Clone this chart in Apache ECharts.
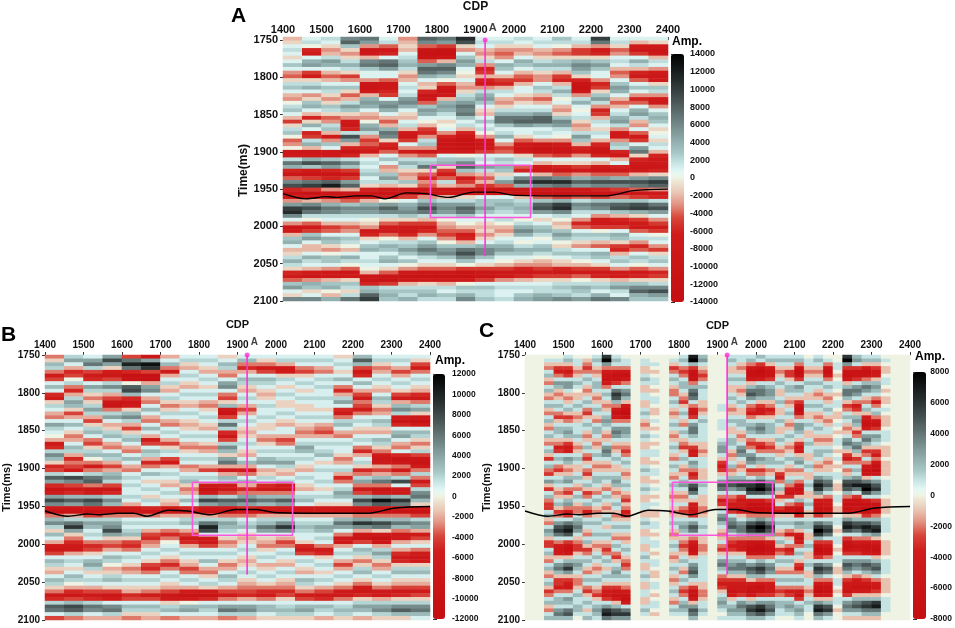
<!DOCTYPE html>
<html>
<head>
<meta charset="utf-8">
<title>Seismic sections A, B, C</title>
<script src="https://cdn.jsdelivr.net/npm/echarts@6.0.0/dist/echarts.min.js"></script>
<style>
html, body { margin: 0; padding: 0; background: #fff; }
#chart { width: 955px; height: 628px; }
</style>
</head>
<body>
<div id="chart"></div>
<script>
'use strict';

// trace start CDP (each cell covers one trace bin)
var binStartCoarse = [1400, 1450, 1500, 1550, 1600, 1650, 1700, 1750, 1800, 1850, 1900, 1950, 2000, 2050, 2100, 2150, 2200, 2250, 2300, 2350];
var binStartFine = [1400, 1425, 1450, 1475, 1500, 1525, 1550, 1575, 1600, 1625, 1650, 1675, 1700, 1725, 1750, 1775, 1800, 1825, 1850, 1875,
    1900, 1925, 1950, 1975, 2000, 2025, 2050, 2075, 2100, 2125, 2150, 2175, 2200, 2225, 2250, 2275, 2300, 2325, 2350, 2375];
// sample start times (ms), 5 ms per cell
var sampleTimes = [1750, 1755, 1760, 1765, 1770, 1775, 1780, 1785, 1790, 1795, 1800, 1805, 1810, 1815, 1820, 1825, 1830, 1835, 1840, 1845,
    1850, 1855, 1860, 1865, 1870, 1875, 1880, 1885, 1890, 1895, 1900, 1905, 1910, 1915, 1920, 1925, 1930, 1935, 1940, 1945,
    1950, 1955, 1960, 1965, 1970, 1975, 1980, 1985, 1990, 1995, 2000, 2005, 2010, 2015, 2020, 2025, 2030, 2035, 2040, 2045,
    2050, 2055, 2060, 2065, 2070, 2075, 2080, 2085, 2090, 2095];

// amplitudes in units of 1000, one array per trace bin, top to bottom
var ampA = [
    [-2,-1,1,2,1,-1,1,3,1,-3, -4,-1,2,3,1,-2,-3,0,2,3, 1,-2,-5,-1,2,3,0,-4,-3,0, -9,-8,2,7,4,-6,-9,-4,6,9, -6,-10,-9,-3,5,10,11,6,1,-3, -9,-8,-2,3,4,1,-2,-1,2,4, 2,-1,-6,-8,-4,3,5,1,-1,6],
    [1,2,0,-6,-7,1,4,5,1,-5, -7,-1,2,4,1,-3,-1,3,4,1, -2,-6,-1,4,1,-6,-5,2,4,-2, -9,-7,4,9,3,-7,-10,-5,7,10, -5,-11,-9,-2,6,9,7,2,0,-4, -8,-5,3,5,1,-2,-2,1,4,2, 1,-2,-7,-9,-3,4,3,-1,1,6],
    [2,1,-1,-3,-2,2,5,4,1,-2, -4,-2,1,3,2,-1,-3,-1,3,2, -1,-4,-3,2,3,-2,-7,-3,3,1, -8,-8,3,8,5,-6,-10,-6,8,12, -3,-10,-10,-3,4,7,6,2,1,-2, -5,-4,1,4,3,-1,-3,0,3,3, 1,-3,-8,-8,-2,3,4,0,-2,4],
    [6,8,3,-1,-3,-1,2,4,2,-1, -5,-3,1,3,-1,-4,-2,2,5,3, -1,-3,-8,-9,-6,2,9,5,-2,-6, -10,-6,2,6,3,-5,-9,-5,5,8, -2,-9,-10,-4,3,6,5,2,1,-2, -4,-3,1,3,2,0,-2,1,4,2, 0,-4,-9,-7,-1,3,2,-1,2,7],
    [7,5,-3,-9,-8,-2,6,7,3,1, 1,-3,-9,-10,-8,-2,4,5,4,1, -2,-3,0,4,5,2,-3,-5,-4,-6, -7,-2,1,2,1,2,3,1,2,-1, -6,-9,-8,-2,4,6,5,2,0,-1, -3,-7,-6,-1,1,3,4,1,1,2, 1,0,-2,-9,-10,-6,3,4,8,10],
    [1,2,-4,-8,-6,1,7,8,5,1, 1,-4,-9,-9,-6,-5,1,5,6,4, 1,-2,-4,-2,4,7,6,-1,-6,-7, -4,1,3,1,-3,-2,3,5,2,-2, -7,-10,-7,0,5,8,6,2,-1,-4, -7,-8,-4,0,2,4,3,1,3,4, 1,-1,-4,-10,-11,-5,2,3,4,3],
    [-3,-2,-1,-2,1,2,3,4,2,-1, -3,-2,1,2,1,2,5,6,4,1, -1,-2,1,2,-2,-7,-9,-5,1,-3, -7,-3,2,4,2,-1,-3,-2,3,-1, -8,-10,-5,1,4,5,6,3,-1,-5, -8,-9,-6,-2,2,3,5,3,1,3, 0,-3,-8,-11,-9,-2,2,3,2,4],
    [8,6,-4,-10,-11,-10,-4,5,8,7, 4,1,-2,-1,-6,-10,-9,-4,3,5, 4,1,0,-2,-5,-6,-3,2,3,-3, -9,-4,2,3,7,-1,-4,-6,-3,-4, -9,-10,-3,3,6,9,7,2,-2,-5, -7,-6,-3,1,3,5,7,5,2,1, -1,-4,-9,-11,-8,-1,2,3,4,2],
    [7,5,-5,-11,-12,-9,-2,6,8,6, 3,0,-4,-9,-10,-8,-2,4,5,4, 2,1,-1,0,1,-3,-6,-9,-10,-9, -7,1,3,4,-1,-5,-7,-4,2,-2, -9,-9,-2,2,5,6,5,2,0,-2, -3,-4,-5,-3,0,3,5,6,3,1, -1,-4,-9,-11,-8,-2,2,1,3,2],
    [11,9,-1,-3,1,3,5,4,1,0, -1,1,-2,-3,-1,2,3,5,7,6, 7,3,1,2,-2,-6,-9,-11,-11,-10, -8,0,3,6,8,3,-3,-7,-5,-3, -10,-9,-1,2,5,8,7,3,1,0, -2,-4,-7,-6,-2,3,7,9,6,3, 0,-5,-10,-11,-7,0,3,2,4,6],
    [1,2,1,-2,-3,-1,2,-3,-6,-5, -2,-6,-7,-3,2,4,5,3,1,-1, -2,1,3,1,2,0,-3,-7,-9,-8, -5,1,2,1,5,2,-2,-4,-2,-5, -9,-7,1,3,3,5,3,1,1,-1, -2,-1,-3,-1,1,4,6,6,3,1, -1,-5,-9,-10,-5,1,3,2,2,3],
    [1,2,-1,-3,-4,-3,1,4,3,1, -2,-5,-6,-2,2,1,-2,-3,-1,2, 4,7,7,3,1,2,4,1,-3,-5, -4,1,3,2,4,3,-1,2,5,-4, -10,-8,1,3,4,3,2,1,2,0, -2,-3,-1,1,2,4,5,3,1,0, -2,-5,-8,-8,-3,1,2,1,1,2],
    [2,1,-1,-3,-2,1,4,3,1,-2, -4,-5,-2,1,1,-1,-3,-1,1,2, 4,7,8,5,1,1,-1,-4,-8,-9, -8,-1,2,1,-4,-6,1,6,9,4, -9,-10,-2,2,3,4,3,1,0,2, 4,6,4,1,0,2,4,3,1,-1, -3,-6,-8,-6,-2,1,2,1,3,4],
    [1,2,1,-2,-3,-1,2,4,2,-1, -3,-3,1,3,2,-2,-4,-2,1,2, 5,8,8,4,1,2,1,-3,-9,-11, -10,-4,1,-2,-7,-9,-2,7,11,6, -8,-11,-4,3,8,9,5,1,-1,1, 3,4,2,0,1,3,4,2,0,-2, -3,-5,-7,-5,-1,1,2,2,4,5],
    [3,2,0,-3,-4,-1,3,4,2,-2, -5,-6,-2,2,4,2,0,1,-2,-3, -1,3,6,5,2,1,0,-3,-8,-10, -10,-5,1,-1,-6,-10,-4,6,11,7, -7,-11,-5,4,10,11,6,2,0,-2, -1,3,5,3,0,-1,2,3,1,-1, -2,-6,-8,-5,-1,2,3,2,3,6],
    [1,2,-2,-5,-5,-1,4,6,5,3, -1,-6,-10,-11,-9,-3,2,4,1,0, 1,2,-1,-3,-2,2,5,3,-2,-6, -7,-3,1,-1,-5,-8,-3,4,8,5, -7,-10,-4,2,6,5,2,1,-3,-6, -4,1,3,2,-1,-3,1,3,2,0, -2,-5,-7,-4,0,2,4,3,2,5],
    [10,7,-3,-8,-6,-1,3,5,3,1, 1,-3,-6,-5,-1,3,5,2,-3,-6, -5,-2,2,1,-1,2,1,-2,-6,-9, -10,-6,1,-2,-8,-10,-4,5,9,6, -6,-10,-5,3,7,6,2,-3,-7,-8, -5,0,3,2,-2,-4,1,4,3,1, -1,-5,-8,-6,-1,2,3,1,4,7],
    [1,2,-1,-4,-3,1,2,1,-2,-4, -3,1,3,5,4,1,-2,-4,-2,1, 2,4,5,2,-3,-7,-8,-3,3,2, -6,-8,-2,1,-6,-9,-4,4,9,6, -5,-9,-4,3,8,9,3,-2,-6,-8, -5,1,4,3,-1,-5,-6,-2,2,3, 1,-3,-7,-7,-2,3,5,2,1,6],
    [1,-2,-7,-9,-5,1,4,2,-2,-6, -8,-4,1,3,1,-3,-6,-4,1,4, 5,2,-2,-3,1,-4,-7,-5,1,5, 7,-1,-6,-8,-9,-7,-2,5,9,7, -4,-9,-5,3,9,10,4,-1,-5,-7, -8,-4,1,2,-3,-6,-4,1,3,2, 0,-4,-8,-6,-1,3,6,8,4,3],
    [1,-1,-8,-10,-9,-2,2,1,-3,-7, -9,-7,-1,3,2,-3,-7,-8,-3,1, 3,4,3,1,-1,0,1,-1,2,1, -2,-6,-8,-8,-9,-6,-1,6,10,8, -3,-8,-6,2,7,9,5,1,-3,-5, -7,-5,0,2,1,-3,-5,-1,2,3, 1,-3,-6,-5,-1,2,6,9,5,3]
];

var ampB = [
    [-3,-1,3,2,-3,-6,-4,1,3,1, -5,-6,-1,2,1,-2,-3,1,4,2, 1,0,-2,-7,-5,2,5,3,-1,-5, -4,2,7,4,-5,-9,-6,4,8,5, -7,-10,-3,3,5,2,-1,3,1,-2, -6,-8,-4,1,3,2,-1,-2,1,3, 2,-1,-3,-7,-5,2,7,6,1,-4],
    [2,4,1,-2,-5,-4,0,2,-3,-5, -2,2,4,3,-1,-4,-2,1,3,1, -1,-3,-2,1,3,2,-2,-5,-3,-4, -6,1,8,5,-4,-8,-5,3,7,4, -8,-9,-2,2,6,9,4,-1,-3,-5, -7,-7,-2,1,2,1,-1,1,3,2, 0,-2,-5,-8,-4,3,8,7,2,-3],
    [1,4,6,2,-4,-7,-5,1,4,2, -1,-3,-1,2,4,2,-2,-4,-1,2, 3,1,-3,-4,-1,2,3,0,-3,-6, -3,2,6,7,-3,-9,-7,3,8,6, -6,-10,-4,2,4,3,1,2,1,-3, -5,-4,-1,1,3,4,2,-1,1,2, 1,-2,-4,-7,-5,2,6,5,1,-2],
    [4,8,4,-1,-6,-8,-4,2,5,2, -2,-4,-8,-9,-3,2,4,1,-2,-1, 2,3,1,-2,-3,1,3,2,-2,-4, -2,3,4,2,-4,-8,-5,2,5,3, -6,-9,-3,2,4,5,8,4,-1,-3, -4,-2,1,3,2,0,-2,-1,2,3, 1,-1,-4,-8,-6,1,5,6,2,-2],
    [-4,6,10,6,-5,-10,-9,0,7,8, 3,-5,-8,-6,-1,3,5,2,-2,-4, -1,2,3,1,-2,-3,1,3,1,-2, -3,1,2,1,2,1,1,2,1,-2, -6,-8,-3,1,2,1,2,3,-1,-4, -5,-3,1,2,1,-1,-3,-2,1,2, 1,-1,-2,-5,-4,1,3,2,-1,-3],
    [-8,4,11,9,-4,-11,-10,-2,4,5, 1,-2,-3,1,3,1,-2,-3,1,3, 1,-2,-6,-4,1,3,2,-2,-5,-3, 1,3,1,-1,1,2,1,-1,2,1, -5,-8,-3,1,2,1,-2,-4,-5,-3, -2,1,2,1,-1,-4,-5,-3,1,2, 1,-1,-3,-6,-4,1,3,2,-1,-2],
    [-2,1,3,-3,-6,-2,1,2,-1,-2, 1,2,-1,-3,-1,2,1,-2,-3,1, 2,1,-2,-4,-1,2,1,-4,-6,-2, 1,2,1,-1,-2,1,2,1,-1,-2, -6,-7,-2,1,2,1,-3,-5,-3,0, 1,2,1,-1,-3,-5,-3,1,2,1, -1,-2,-4,-8,-7,-1,2,3,1,-3],
    [1,2,-1,-2,1,2,1,-1,-2,1, 2,1,-1,-2,1,2,1,-1,-2,-1, 1,2,1,-2,-3,-1,1,2,1,-3, -2,1,2,3,-1,-3,-2,1,3,1, -5,-7,-2,2,3,1,-2,-4,-6,-5, -2,1,2,1,-1,-2,-4,-3,1,2, 1,-2,-6,-9,-6,0,3,4,1,-2],
    [1,2,1,-1,-2,1,2,1,-1,1, 2,1,-2,-3,-1,1,2,1,-1,-2, 1,2,1,-1,-3,-2,1,2,1,-2, -4,1,2,1,-7,-10,-6,3,8,4, -8,-10,-2,2,6,10,8,1,-6,-8, -4,1,2,1,3,1,-2,-3,-1,1, 2,-1,-6,-9,-5,1,3,2,1,-2],
    [-1,1,3,2,-2,-3,1,4,5,1, -3,-4,-1,3,-7,-9,-4,2,6,2, -5,-8,-4,2,5,3,-1,4,6,-2, -7,-2,3,2,-6,-8,-4,2,7,5, -7,-10,-3,2,4,3,2,1,-1,-3, -2,1,2,1,-1,-3,-2,1,3,2, 1,-2,-4,-6,-3,1,4,6,2,-3],
    [1,3,-3,-5,-2,1,3,2,-1,-2, 1,2,1,-2,-4,-2,1,2,1,-1, -2,-1,1,2,1,-1,-2,1,3,-2, -6,-3,1,3,-2,-5,-3,4,7,4, -5,-8,-3,1,2,3,1,-1,-2,-1, 1,2,1,-1,-2,-1,1,2,1,-1, -2,-3,-4,-5,-2,1,4,5,2,-2],
    [1,-1,-3,-6,-4,1,3,2,1,-1, -2,-1,1,2,1,1,2,1,-1,-1, 1,-2,-3,-1,1,2,1,3,4,1, -2,-1,2,1,-5,-7,-3,3,6,3, -6,-8,-2,2,3,6,4,1,-1,-2, -3,-1,1,2,1,-2,-1,1,2,1, -1,-3,-5,-6,-3,1,3,3,1,-1],
    [1,2,-2,-7,-6,-1,2,1,-1,1, 2,1,-1,-1,1,2,1,-1,-2,1, 1,-2,-4,-3,1,2,1,2,4,2, -1,-2,1,2,-6,-8,-3,3,7,4, -7,-9,-2,2,5,9,5,1,-2,-4, -3,1,2,1,-1,-2,1,2,1,-1, -2,-3,-5,-4,-1,1,2,3,2,-1],
    [1,2,1,-3,-4,-1,1,2,1,-1, 1,2,1,-1,-1,1,2,1,-1,-2, -3,-2,1,2,4,3,1,2,1,-1, -2,1,2,1,-1,-2,1,2,3,1, -6,-7,-2,1,2,3,2,1,1,-1, -5,-7,-4,1,2,1,-1,-2,1,3, 2,-1,-3,-6,-4,1,3,4,2,-1],
    [1,2,1,-2,-3,1,2,1,2,1, 1,2,1,1,-1,1,2,1,-2,-3, -4,-2,1,2,1,2,3,1,-1,1, 2,1,1,2,1,-1,1,2,1,-1, -6,-7,-2,1,2,4,3,1,2,1, -3,-6,-5,-1,1,2,1,-1,1,2, 1,-2,-4,-7,-5,1,3,2,1,-2],
    [-1,1,2,1,-1,1,3,1,-3,-5, -2,2,4,1,-5,-7,-3,2,3,1, -2,-3,1,2,1,1,-1,-3,-2,1, 2,-2,-5,-3,1,2,4,3,1,-1, -7,-8,-2,3,6,4,1,-3,-7,-6, -2,1,2,1,-2,-4,-2,1,2,1, -1,-3,-6,-7,-3,1,2,3,2,-1],
    [3,7,3,-4,-8,-5,1,3,1,-2, -4,-6,-3,-4,-6,-3,1,2,1,-1, -2,1,2,1,-3,-5,-2,1,2,-1, -5,-3,2,4,-3,-7,-4,3,8,5, -8,-10,-3,4,9,5,-2,-8,-9,-4, 1,3,2,-1,-3,-1,2,3,1,-1, -3,-6,-8,-5,-1,2,4,3,1,-2],
    [1,2,-1,-3,-2,1,2,1,-1,-2, 1,3,2,-1,-3,-2,1,3,2,-1, -2,1,3,2,-1,-3,-6,-8,-7,-2, -4,-2,3,6,-3,-9,-6,4,11,7, -7,-10,-3,3,8,6,-1,-7,-10,-8, -2,2,4,2,-1,-3,-2,1,2,1, -1,-3,-7,-6,-2,2,4,5,2,-1],
    [1,2,1,-2,-4,-2,1,2,1,-1, -4,-6,-2,3,5,2,-6,-9,-5,1, 3,4,1,-2,-3,1,-5,-9,-8,-3, -6,-3,2,8,1,-7,-6,3,9,6, -6,-9,-3,3,6,3,-3,-7,-6,-2, 1,-2,-5,-7,-5,-1,2,3,1,-1, -2,-4,-7,-5,-1,2,5,7,3,-1],
    [1,-1,-4,-6,-3,1,2,1,-1,-2, -5,-7,-3,2,4,-1,-8,-10,-6,1, 3,2,-1,-3,-1,2,-4,-8,-9,-6, -3,2,-3,-7,-4,2,5,6,3,-1, -6,-9,-4,2,5,4,-2,-6,-4,-1, 1,-3,-6,-8,-6,-1,2,3,1,-1, -2,-4,-6,-4,-1,2,5,6,3,1]
];

var ampC = [
    [0,0,0,0,0,0,0,0,0,0, 0,0,0,0,0,0,0,0,0,0, 0,0,0,0,0,0,0,0,0,0, 0,0,0,0,0,0,0,0,0,0, 0,0,0,0,0,0,0,0,0,0, 0,0,0,0,0,0,0,0,0,0, 0,0,0,0,0,0,0,0,0,0],
    [0,0,0,0,0,0,0,0,0,0, 0,0,0,0,0,0,0,0,0,0, 0,0,0,0,0,0,0,0,0,0, 0,0,0,0,0,0,0,0,0,0, 0,0,0,0,0,0,0,0,0,0, 0,0,0,0,0,0,0,0,0,0, 0,0,0,0,0,0,0,0,0,0],
    [0,1,-1,-2,1,2,-1,-2,1,2, -1,-2,1,2,-1,-2,1,2,-1,-2, 1,2,-1,-2,1,2,-1,-3,1,2, -2,-3,1,3,-1,-3,1,2,-2,-3, -3,1,2,-1,-2,1,3,2,-1,-3, -3,1,2,-1,-2,1,2,-1,-2,1, 2,-1,-3,-2,1,2,-1,-2,1,2],
    [0,1,-1,-3,-4,-2,1,3,2,-1, -2,-1,1,2,1,-2,-3,-1,1,2, 2,1,-1,-2,-4,-3,1,2,1,-2, -3,-1,1,2,1,-1,-2,-1,1,2, -1,-3,-2,1,3,5,6,4,1,-2, -4,-5,-4,-1,1,3,4,2,-1,-3, -3,-4,-2,1,2,2,1,3,4,2],
    [1,2,-1,-3,-5,-3,1,3,3,1, -1,-2,-1,1,2,-1,-3,-2,1,2, 3,2,-1,-3,-5,-4,1,3,2,-1, -2,-1,2,3,1,-2,-3,-1,2,3, -2,-4,-3,1,4,6,7,5,1,-3, -6,-7,-5,-1,2,4,6,3,-1,-3, -4,-5,-2,1,3,2,1,4,5,2],
    [0,1,1,-1,-2,-1,1,2,1,0, -1,-1,1,2,1,-1,-2,-1,1,1, 1,2,1,-1,-2,-1,1,2,1,-1, -1,1,2,1,-1,-2,1,2,1,-1, -2,-2,1,2,3,4,3,1,-1,-2, -3,-3,-1,1,2,3,2,1,-1,-2, -2,-1,1,2,1,1,2,2,1,0],
    [0,-1,-2,-3,-2,1,2,1,-1,-2, -1,1,2,1,-2,-3,-1,1,2,1, -1,-2,-1,1,2,1,-2,-3,-1,1, -2,-3,-1,1,2,-1,-3,-2,1,2, -2,-4,-2,1,2,1,-1,-2,1,2, -1,-3,-2,1,2,1,-1,-2,1,2, 1,-2,-3,-1,1,2,1,-1,1,2],
    [1,2,1,-1,-2,-1,1,2,2,1, -1,-2,-1,1,2,1,-1,-2,1,2, 2,1,-1,-2,-1,1,2,1,-1,-2, -1,1,2,2,1,-1,-2,1,2,1, -1,-2,-1,1,2,1,1,2,1,-1, -2,-1,1,2,1,-1,-2,-1,1,2, 1,-1,-2,-3,-1,1,2,3,2,1],
    [6,8,3,-2,-4,-6,-7,-5,-2,1, 2,1,-1,-2,-1,1,2,3,2,1, -1,-2,-1,1,3,4,3,1,-1,-2, -1,1,2,1,-1,-2,1,2,1,-1, -2,-1,1,2,1,-1,1,2,1,-1, -2,-3,-2,1,2,1,-1,1,2,1, -1,-3,-4,-5,-3,1,3,6,7,4],
    [1,2,1,-2,-5,-7,-6,-3,1,4, 6,5,2,-2,-5,-7,-5,-2,1,3, 4,3,1,-1,-2,-1,1,2,1,-1, -1,1,2,3,2,-1,-2,-1,1,2, 1,-1,-2,-1,1,2,1,-1,-2,1, 2,1,-2,-3,-1,1,2,3,2,1, -1,-3,-5,-6,-4,-1,2,5,6,3],
    [0,1,1,-2,-5,-7,-5,-2,1,3, 4,2,-1,-4,-7,-8,-6,-2,1,3, 3,2,1,-1,-2,-3,-2,1,2,1, -1,-2,-1,1,2,1,-1,-2,-3,-1, -2,-4,-3,-1,1,2,1,-1,-2,-1, 1,2,1,-1,-2,-3,-2,1,2,1, -1,-2,-4,-6,-7,-4,1,4,6,3],
    [0,0,0,0,0,0,0,0,0,0, 0,0,0,0,0,0,0,0,0,0, 0,0,0,0,0,0,0,0,0,0, 0,0,0,0,0,0,0,0,0,0, 0,0,0,0,0,0,0,0,0,0, 0,0,0,0,0,0,0,0,0,0, 0,0,0,0,0,0,0,0,0,0],
    [0,1,1,-1,-1,1,2,1,-1,-1, 1,1,-1,-1,1,2,1,-1,-2,-1, 1,2,1,-1,-1,1,1,-1,-1,1, 2,1,-1,-1,1,2,1,-1,-1,1, 1,-1,-1,1,2,1,-1,-1,1,1, -1,-1,1,2,1,-1,-1,1,2,1, -1,-1,1,1,-1,-1,1,2,1,0],
    [0,0,1,0,-1,0,1,1,0,-1, 0,1,1,0,-1,-1,0,1,0,-1, 0,1,0,-1,0,1,1,0,-1,0, 1,1,0,-1,0,1,0,-1,0,1, 0,-1,-1,0,1,1,0,-1,0,1, 1,0,-1,0,1,1,0,-1,-1,0, 1,1,0,-1,0,1,1,0,-1,0],
    [0,0,0,0,0,0,0,0,0,0, 0,0,0,0,0,0,0,0,0,0, 0,0,0,0,0,0,0,0,0,0, 0,0,0,0,0,0,0,0,0,0, 0,0,0,0,0,0,0,0,0,0, 0,0,0,0,0,0,0,0,0,0, 0,0,0,0,0,0,0,0,0,0],
    [0,1,-1,-3,-2,1,2,1,-1,-2, -2,1,2,1,-1,-2,-1,1,2,1, -1,-2,-1,1,2,1,-1,-2,1,2, 1,-1,-2,1,2,1,-1,-2,-1,1, -1,-2,-1,1,2,1,-1,-2,-1,1, 2,1,-1,-2,-1,1,2,1,-1,-2, -1,1,2,1,-1,-2,1,2,1,0],
    [1,2,1,-2,-3,-2,1,2,2,1, -1,-2,-3,-1,1,2,1,-1,-2,1, 2,1,-1,-2,-3,-1,1,2,1,-1, -2,-1,1,2,3,1,-1,-2,-1,1, -2,-3,-1,1,2,3,2,1,-1,-2, -3,-2,-1,1,2,1,-1,-2,1,2, 1,-2,-3,-2,1,2,3,2,1,0],
    [7,8,2,-3,-6,-7,-6,-2,2,4, 5,4,1,-2,-5,-6,-3,1,3,4, 4,2,1,-1,-3,-5,-4,1,3,2, -2,-4,-3,1,5,6,4,1,-1,-4, -5,-6,-3,1,3,5,4,1,-2,-4, -6,-7,-5,-1,1,3,4,5,3,1, -1,-3,-6,-7,-5,-1,3,5,4,2],
    [2,3,1,-1,-2,-3,-2,1,2,1, 1,1,-1,-1,-2,-1,1,2,1,1, 1,1,1,-1,-1,-2,-1,1,1,1, -1,-1,-1,1,2,1,1,-1,-1,-1, -2,-2,-1,1,1,2,1,1,-1,-1, -2,-2,-1,1,1,1,1,1,1,1, -1,-1,-2,-2,-1,1,1,2,1,0],
    [0,0,0,0,0,0,0,0,0,0, 0,0,0,0,0,0,0,0,0,0, 0,0,0,0,0,0,0,0,0,0, 0,0,0,0,0,0,0,0,0,0, 0,0,0,0,0,0,0,0,0,0, 0,0,0,0,0,0,0,0,0,0, 0,0,0,0,0,0,0,0,0,0],
    [0,0,0,0,0,0,0,0,0,0, 0,0,0,1,1,0,0,1,1,1, 0,0,1,2,3,3,1,-1,-3,-4, -3,-1,1,3,5,4,1,-2,-4,-3, -1,1,3,4,2,1,-1,-2,-1,1, -2,-3,-1,1,3,4,2,1,-2,-3, -4,-3,-1,1,2,3,2,1,0,1],
    [1,2,1,-1,-1,1,2,1,-1,-1, 1,2,1,-1,-2,-1,1,2,1,-1, -1,1,2,2,1,-1,-2,-1,1,2, -2,-1,2,4,5,3,1,-2,-3,-4, -5,-3,1,3,4,5,3,1,-2,-3, -4,-3,-1,1,2,3,4,2,-1,-3, -4,-5,-6,-4,-1,1,2,3,2,1],
    [1,1,-1,-2,-1,1,2,1,-1,-2, -1,1,2,1,-1,-1,1,2,2,1, -1,-2,-1,1,3,4,3,1,-1,-2, -1,1,2,4,6,4,1,-3,-5,-4, -6,-5,-1,1,3,4,4,2,-2,-4, -5,-4,-1,1,2,4,4,2,-1,-3, -4,-5,-5,-3,1,3,4,3,2,1],
    [1,2,-2,-5,-7,-7,-5,-1,2,4, 5,3,1,-2,-3,-4,-2,1,2,3, 2,1,-2,-3,-2,1,3,4,3,1, -3,-2,1,4,6,7,5,1,-4,-7, -8,-6,-2,2,5,7,6,3,-2,-6, -7,-8,-6,-2,1,3,5,4,2,-1, -4,-6,-7,-5,-1,2,5,6,4,2],
    [2,1,-3,-6,-8,-7,-4,1,3,4, 4,2,-1,-3,-5,-4,-1,1,3,4, 3,1,-1,-3,-4,-2,1,3,2,-1, -3,-2,2,5,7,8,5,1,-4,-7, -8,-7,-2,3,6,8,7,3,-2,-6, -8,-8,-6,-2,2,4,6,5,2,-2, -5,-7,-6,-3,1,3,6,7,5,2],
    [1,2,-1,-4,-6,-6,-3,1,2,3, 3,2,-1,-2,-4,-3,-1,1,2,2, 2,1,-1,-2,-3,-2,1,2,2,1, -2,-1,1,3,5,6,4,1,-3,-6, -7,-6,-2,2,4,6,5,3,-1,-4, -6,-7,-5,-2,1,3,4,3,1,-2, -4,-5,-5,-3,1,3,4,5,3,1],
    [1,2,1,-1,-2,-1,1,2,1,-1, -1,1,2,1,-1,-1,1,2,1,-1, -1,1,2,1,-1,-2,-1,1,2,1, -1,-3,-4,-2,1,2,-1,-3,-1,1, -3,-4,-1,1,2,1,-1,-2,1,2, -1,-3,-2,1,2,1,-1,-2,1,2, 1,-2,-3,-2,1,2,2,1,1,0],
    [1,2,1,-1,-3,-3,-1,1,2,2, 1,-1,-2,-1,1,2,1,-1,-2,-1, 1,2,1,-1,-2,-1,1,2,1,-1, -2,-1,1,2,-2,-5,-6,-3,1,-2, -6,-5,-1,1,2,1,-2,-4,-1,1, -2,-4,-3,1,2,1,-1,-2,1,2, 1,-2,-4,-3,1,2,3,2,1,0],
    [1,2,-2,-6,-8,-7,-3,1,3,2, 1,-1,-3,-6,-8,-6,-2,1,3,3, 2,1,-1,-3,-5,-4,-1,2,3,1, -2,-1,1,-2,-5,-7,-5,-1,2,-3, -7,-8,-4,1,3,2,-1,-4,-6,-4, -2,1,2,1,-1,-3,-4,-2,1,2, 1,-2,-5,-6,-3,1,2,3,2,1],
    [0,1,1,-1,-2,-1,1,2,1,1, -1,-1,1,2,1,-1,-1,1,2,1, -1,-1,1,2,1,1,-1,-1,1,2, 1,-1,-1,1,2,1,-1,-1,1,2, 1,-1,-1,1,2,2,1,-1,-1,1, 2,1,-1,-1,1,2,1,-1,-1,1, 1,-1,-2,-1,1,2,1,1,0,0],
    [1,2,1,-1,-2,-1,1,2,1,-1, -2,-1,1,2,1,-1,-2,-1,1,2, 1,-1,-2,-1,1,2,2,1,-1,-2, -1,1,3,5,7,6,3,-1,-4,-6, -7,-6,-3,1,4,6,8,6,2,-3, -6,-8,-7,-3,1,4,6,5,2,-2, -5,-7,-8,-5,-1,3,6,7,4,2],
    [0,1,-2,-5,-7,-5,-2,1,2,1, -1,-2,-1,1,2,1,-1,-2,-1,1, 1,-1,-2,-1,1,2,1,-1,-2,-1, -1,1,2,4,5,3,1,-2,-4,-5, -6,-5,-2,1,3,5,6,4,1,-3, -5,-7,-6,-2,1,3,5,4,1,-2, -4,-6,-7,-4,-1,2,5,6,3,1],
    [0,0,1,1,0,-1,0,1,1,0, -1,0,1,1,0,-1,-1,0,1,0, -1,0,1,1,0,-1,0,1,0,-1, 0,1,1,0,-1,-1,0,1,1,0, -1,-1,0,1,1,0,-1,0,1,1, 0,-1,0,1,1,0,-1,-1,0,1, 1,0,-1,0,1,1,0,-1,0,0],
    [6,8,3,-3,-6,-7,-5,-1,2,4, 4,2,-1,-3,-2,1,2,1,-1,-2, -1,1,3,4,2,-1,-3,-4,-2,1, -2,-1,2,5,6,5,2,-2,-5,-7, -7,-5,-1,3,6,7,5,1,-3,-6, -7,-6,-3,1,3,5,4,2,-1,-3, -4,-5,-6,-3,1,3,4,3,1,-1],
    [2,3,1,-3,-6,-6,-3,1,3,4, 3,1,-2,-4,-3,-1,2,3,2,-1, -3,-2,1,3,4,2,-1,-3,-2,1, 2,1,3,5,7,4,1,-3,-6,-7, -6,-4,-1,2,5,6,4,1,-2,-4, -6,-5,-3,1,3,4,3,1,-2,-4, -5,-6,-4,-1,2,4,5,3,1,-1],
    [1,2,-1,-4,-7,-6,-2,2,4,3, 1,-1,-2,1,2,-1,-4,-6,-7,-4, 1,3,4,2,-1,-3,-2,1,-2,-5, -7,-6,-1,4,7,8,5,1,-4,-7, -8,-7,-3,2,5,7,6,2,-2,-5, -7,-6,-4,1,3,5,4,2,-1,-3, -5,-6,-4,-1,2,5,6,4,2,-1],
    [1,2,-1,-3,-5,-4,-1,2,3,2, 1,-2,-4,-2,1,2,-2,-5,-6,-3, 1,3,2,1,-1,-3,-4,-2,-5,-7, -8,-5,1,3,5,6,3,1,-3,-6, -7,-6,-2,2,4,6,7,3,-1,-4, -6,-7,-5,-1,2,4,5,3,1,-2, -4,-5,-3,-1,2,6,7,4,2,-1],
    [0,1,0,-1,-1,0,1,1,0,-1, 0,-1,-1,0,1,0,-1,-1,-1,0, 1,1,1,0,-1,-1,-1,0,-1,-1, -1,-1,0,1,1,1,1,0,-1,-1, -1,-1,0,1,1,1,1,0,0,-1, -1,-1,-1,0,1,1,1,1,0,-1, -1,-1,-1,0,1,1,1,1,0,0],
    [0,0,0,0,0,0,0,0,0,0, 0,0,0,0,0,0,0,0,0,0, 0,0,0,0,0,0,0,0,0,0, 0,0,0,0,0,0,0,0,0,0, 0,0,0,0,0,0,0,0,0,0, 0,0,0,0,0,0,0,0,0,0, 0,0,0,0,0,0,0,0,0,0],
    [0,0,0,0,0,0,0,0,0,0, 0,0,0,0,0,0,0,0,0,0, 0,0,0,0,0,0,0,0,0,0, 0,0,0,0,0,0,0,0,0,0, 0,0,0,0,0,0,0,0,0,0, 0,0,0,0,0,0,0,0,0,0, 0,0,0,0,0,0,0,0,0,0]
];

// picked horizon (CDP, ms), well A and the target box
var horizon = [[1400, 1956], [1460, 1963], [1510, 1960], [1540, 1961], [1590, 1959], [1630, 1959], [1665, 1963], [1720, 1955],
    [1770, 1956], [1830, 1961], [1895, 1954], [1950, 1954], [1995, 1958], [2140, 1959], [2240, 1959], [2310, 1952], [2400, 1950]];
var wellTrack = [[1925, 1750], [1925, 2040]];
var wellHead = [[1925, 1750]];
var targetBox = [[1783, 1918], [2043, 1918], [2043, 1988], [1783, 1988], [1783, 1918]];

var FONT = '"Liberation Sans", Arial, sans-serif';

// colour ramp: red (negative) - cream (0) - pale cyan - grey - black (positive)
var rampStops = [
    [-1.00, '#c40e12'], [-0.45, '#cf1c1b'], [-0.32, '#d8463a'], [-0.22, '#e18f7f'],
    [-0.12, '#e9c4b2'], [-0.04, '#ede2d0'], [0.00, '#eff3e3'], [0.05, '#e4f8f6'],
    [0.12, '#c8e5e5'], [0.20, '#a8c8c8'], [0.35, '#859f9f'], [0.50, '#637575'],
    [0.65, '#424d4d'], [0.80, '#232929'], [1.00, '#000000']
];

function hexToRgb(h) {
    return [parseInt(h.substr(1, 2), 16), parseInt(h.substr(3, 2), 16), parseInt(h.substr(5, 2), 16)];
}

function buildRamp(stops, n) {
    var out = [];
    for (var k = 0; k < n; k++) {
        var t = -1 + 2 * k / (n - 1);
        var s = 0;
        while (s < stops.length - 2 && t > stops[s + 1][0]) s++;
        var a = stops[s], b = stops[s + 1];
        var f = (t - a[0]) / (b[0] - a[0]);
        var ca = hexToRgb(a[1]), cb = hexToRgb(b[1]);
        var c = ca.map(function (v, i) { return Math.round(v + (cb[i] - v) * f); });
        out.push('rgb(' + c.join(',') + ')');
    }
    return out;
}

var ramp = buildRamp(rampStops, 161);

function plain(v) { return String(v); }

var panels = [
    { letter: 'A', left: 283, top: 37, width: 385, height: 264, traces: ampA, bins: binStartCoarse, amax: 14000,
      bar: { left: 671, top: 54, width: 13, height: 248, font: 9, margin: 6 },
      tick: 11, name: 12, cdpGap: 27, amp: [672, 36], tag: [231, 6] },
    { letter: 'B', left: 45, top: 355, width: 385, height: 265, traces: ampB, bins: binStartCoarse, amax: 12000,
      bar: { left: 433, top: 374, width: 12, height: 245, font: 8.5, margin: 7 },
      tick: 10, name: 11, cdpGap: 25, amp: [435, 355], tag: [1, 325] },
    { letter: 'C', left: 525, top: 355, width: 385, height: 265, traces: ampC, bins: binStartFine, amax: 8000,
      bar: { left: 913, top: 372, width: 13, height: 247, font: 8.5, margin: 7 },
      tick: 10, name: 11, cdpGap: 24, amp: [915, 351], tag: [479, 321] }
];

var option = {
    animation: false,
    backgroundColor: '#ffffff',
    textStyle: { fontFamily: FONT },
    grid: [], xAxis: [], yAxis: [], series: [], visualMap: [], graphic: []
};

panels.forEach(function (p) {
    var g = option.grid.length;
    var box = { left: p.left, top: p.top, width: p.width, height: p.height };
    var tickLabel = { color: '#111', fontSize: p.tick, fontWeight: 'bold', fontFamily: FONT, formatter: plain };

    // grid for the amplitude cells
    option.grid.push(box);
    option.xAxis.push({ type: 'category', gridIndex: g, data: p.bins, show: false });
    option.yAxis.push({ type: 'category', gridIndex: g, data: sampleTimes, inverse: true, show: false });

    // grid carrying the CDP / time scales and the overlays
    option.grid.push(Object.assign({}, box));
    option.xAxis.push({
        type: 'value', gridIndex: g + 1, min: 1400, max: 2400, interval: 100, position: 'top',
        name: 'CDP', nameLocation: 'middle', nameGap: p.cdpGap,
        nameTextStyle: { color: '#111', fontSize: p.name, fontWeight: 'bold', fontFamily: FONT },
        axisLine: { show: true, lineStyle: { color: '#999', width: 1 } },
        axisTick: { show: true, length: 3, lineStyle: { color: '#333' } },
        axisLabel: Object.assign({ margin: 5 }, tickLabel),
        splitLine: { show: false }
    });
    option.yAxis.push({
        type: 'value', gridIndex: g + 1, min: 1750, max: 2100, interval: 50, inverse: true,
        name: 'Time(ms)', nameLocation: 'middle', nameGap: 33, nameRotate: 90,
        nameTextStyle: { color: '#111', fontSize: p.name, fontWeight: 'bold', fontFamily: FONT },
        axisLine: { show: true, lineStyle: { color: '#999', width: 1 } },
        axisTick: { show: true, length: 3, lineStyle: { color: '#333' } },
        axisLabel: Object.assign({ margin: 5 }, tickLabel),
        splitLine: { show: false }
    });

    // grid used only for the colour bar tick labels
    option.grid.push({ left: p.bar.left, top: p.bar.top, width: p.bar.width, height: p.bar.height });
    option.xAxis.push({ type: 'value', gridIndex: g + 2, min: 0, max: 1, show: false });
    option.yAxis.push({
        type: 'value', gridIndex: g + 2, min: -p.amax, max: p.amax, interval: 2000, position: 'right',
        axisLine: { show: false },
        axisTick: { show: true, length: 4, lineStyle: { color: '#333' } },
        axisLabel: { margin: p.bar.margin, color: '#111', fontSize: p.bar.font, fontWeight: 'bold', fontFamily: FONT, formatter: plain },
        splitLine: { show: false }
    });

    var cells = [];
    p.traces.forEach(function (trace, i) {
        trace.forEach(function (v, j) { cells.push([i, j, v * 1000]); });
    });

    var heatIndex = option.series.length;
    option.series.push({
        type: 'heatmap', xAxisIndex: g, yAxisIndex: g, data: cells,
        progressive: 0, itemStyle: { borderWidth: 0 }, emphasis: { disabled: true }
    });

    option.visualMap.push({
        type: 'continuous', seriesIndex: heatIndex, min: -p.amax, max: p.amax,
        calculable: false, hoverLink: false, orient: 'vertical', padding: 0,
        left: p.bar.left, top: p.bar.top, itemWidth: p.bar.width, itemHeight: p.bar.height,
        text: null, inRange: { color: ramp }
    });

    option.series.push({
        type: 'line', xAxisIndex: g + 1, yAxisIndex: g + 1, data: horizon, z: 5,
        showSymbol: false, smooth: 0.3, silent: true,
        lineStyle: { color: '#000', width: 1.4 }
    });
    option.series.push({
        type: 'line', xAxisIndex: g + 1, yAxisIndex: g + 1, data: targetBox, z: 6,
        showSymbol: false, silent: true,
        lineStyle: { color: '#ff55dc', width: 1.6 }
    });
    option.series.push({
        type: 'line', xAxisIndex: g + 1, yAxisIndex: g + 1, data: wellTrack, z: 7,
        showSymbol: false, silent: true,
        lineStyle: { color: '#ff33d6', width: 1.6 }
    });
    option.series.push({
        type: 'scatter', xAxisIndex: g + 1, yAxisIndex: g + 1, data: wellHead, z: 8,
        symbolSize: 5, silent: true, clip: false,
        itemStyle: { color: '#ff33d6' },
        label: { show: true, formatter: 'A', position: [6, -15], color: '#111',
                 fontSize: p.tick, fontWeight: 'bold', fontFamily: FONT }
    });

    option.graphic.push({
        type: 'text', left: p.tag[0], top: p.tag[1],
        style: { text: p.letter, fill: '#000', font: 'bold 21px ' + FONT }
    });
    option.graphic.push({
        type: 'text', left: p.amp[0], top: p.amp[1],
        style: { text: 'Amp.', fill: '#000', font: 'bold 12px ' + FONT }
    });
});

var chart = echarts.init(document.getElementById('chart'));
chart.setOption(option);
</script>
</body>
</html>
